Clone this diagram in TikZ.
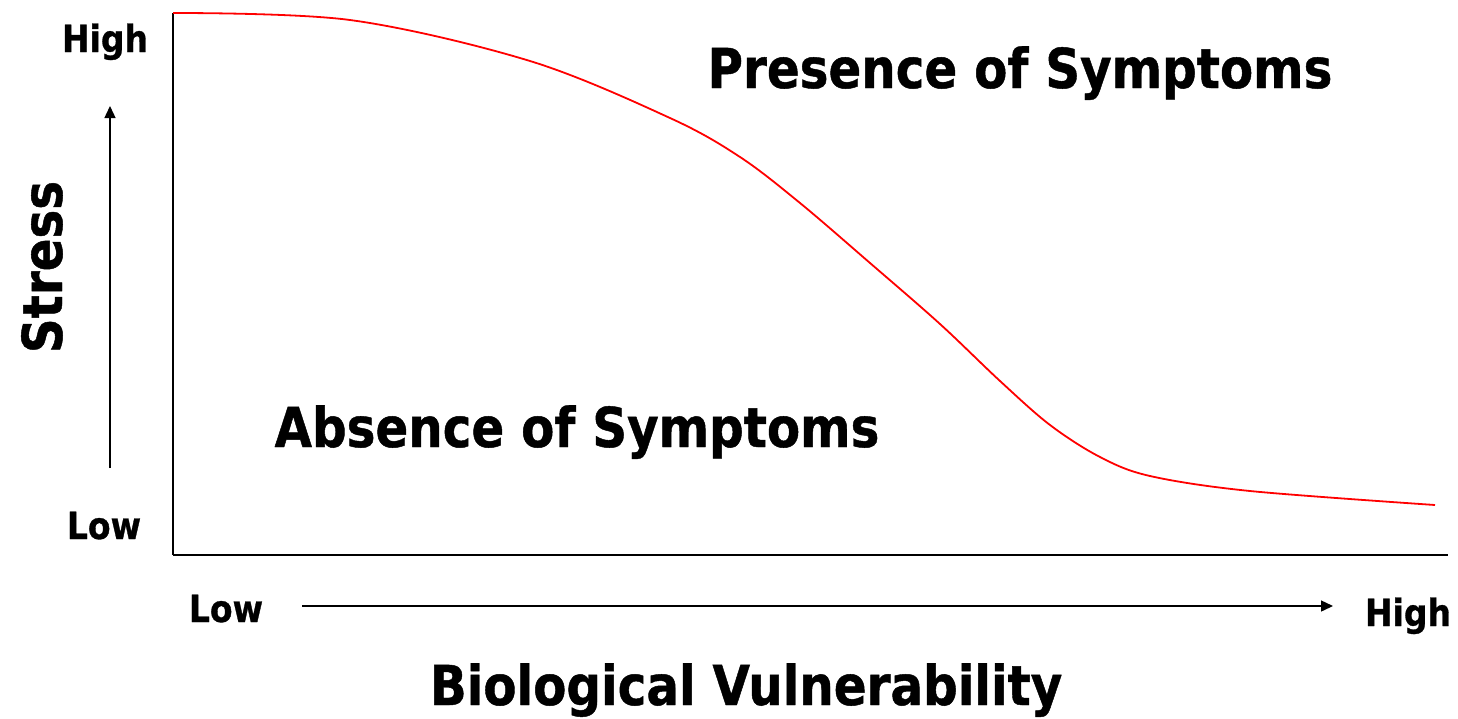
\documentclass[tikz,border=0pt]{standalone}
\usepackage{fontspec}
\newfontfamily\labfont{DejaVu Sans}[FakeStretch=0.88, BoldFeatures={FakeBold=0.8}]
\usetikzlibrary{arrows.meta}
\begin{document}
\begin{tikzpicture}[x=1pt,y=-1pt,
  big/.style={font=\labfont\bfseries\fontsize{55}{60}\selectfont, inner sep=0pt, anchor=base},
  small/.style={font=\labfont\bfseries\fontsize{37.5}{40}\selectfont, inner sep=0pt, anchor=base},
  axisline/.style={black, line width=#1},
  dirarrow/.style={black, line width=1.4pt, -{Triangle[length=12pt,width=11pt]}},
  curve/.style={red, line width=1.8pt, line join=round}]
  \useasboundingbox (0,0) rectangle (1458,718);

  % axes
  \coordinate (origin) at (173,555);
  \coordinate (ytop) at (173,13);
  \coordinate (xend) at (1448,555);
  \draw[axisline=1.4pt] (ytop) -- (origin);
  \draw[axisline=2.4pt] (origin) -- (xend);

  % direction arrows
  \coordinate (ya) at (110,468);
  \coordinate (yb) at (110,106);
  \coordinate (xa) at (302,606);
  \coordinate (xb) at (1333,606);
  \draw[dirarrow] (ya) -- (yb);
  \draw[dirarrow] (xa) -- (xb);

  % axis labels
  \node[small] (yhigh) at (105,52) {High};
  \node[small] (ylow) at (104,539) {Low};
  \node[small] (xlow) at (226,622) {Low};
  \node[small] (xhigh) at (1408,626) {High};
  \node[big, rotate=90] (stress) at (62,267) {Stress};
  \node[big] (bio) at (746,705) {Biological Vulnerability};

  % regions
  \node[big] (presence) at (1020,88) {Presence of Symptoms};
  \node[big] (absence) at (577,447) {Absence of Symptoms};

  % threshold curve
  \draw[curve] plot[smooth, tension=0.55] coordinates {
    (173,13) (350,20) (530,61) (670,118) (740,157) (800,203)
    (870,263) (940,324) (1000,381) (1050,425) (1100,457) (1150,476)
    (1250,491) (1435,505)};
\end{tikzpicture}
\end{document}
